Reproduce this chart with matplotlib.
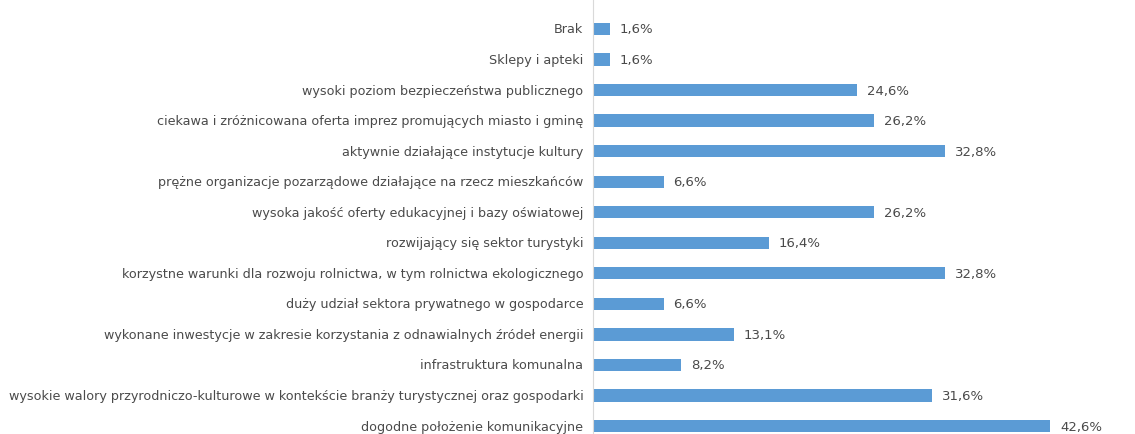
import matplotlib
matplotlib.use('Agg')
import matplotlib.pyplot as plt

# kategorie od góry do dołu
kategorie = [
    'Brak',
    'Sklepy i apteki',
    'wysoki poziom bezpieczeństwa publicznego',
    'ciekawa i zróżnicowana oferta imprez promujących miasto i gminę',
    'aktywnie działające instytucje kultury',
    'prężne organizacje pozarządowe działające na rzecz mieszkańców',
    'wysoka jakość oferty edukacyjnej i bazy oświatowej',
    'rozwijający się sektor turystyki',
    'korzystne warunki dla rozwoju rolnictwa, w tym rolnictwa ekologicznego',
    'duży udział sektora prywatnego w gospodarce',
    'wykonane inwestycje w zakresie korzystania z odnawialnych źródeł energii',
    'infrastruktura komunalna',
    'wysokie walory przyrodniczo-kulturowe w kontekście branży turystycznej oraz gospodarki',
    'dogodne położenie komunikacyjne',
]
wartosci = [1.6, 1.6, 24.6, 26.2, 32.8, 6.6, 26.2, 16.4, 32.8, 6.6, 13.1, 8.2, 31.6, 42.6]

plt.rcParams['font.family'] = ['DejaVu Sans']
kolor_tekstu = '#4a4a4a'

fig = plt.figure(figsize=(11.35, 4.35), dpi=100)
ax = fig.add_axes([593 / 1135, 0, 1 - 593 / 1135, 1])

n = len(kategorie)
y = [n - 1 - i for i in range(n)]
ax.barh(y, wartosci, height=0.4, color='#5B9BD5')

for yi, v in zip(y, wartosci):
    ax.annotate(f'{v:.1f}%'.replace('.', ','), (v, yi), xytext=(7, 0),
                textcoords='offset points', va='center', ha='left',
                fontsize=9.5, color=kolor_tekstu)

ax.set_yticks(y)
ax.set_yticklabels(kategorie, fontsize=9.2, color=kolor_tekstu, va='center')
ax.tick_params(axis='y', length=0, pad=7)
ax.set_xticks([])
ax.set_xlim(0, 50.5)
ax.set_ylim(-0.26, n - 1 + 0.98)

for s in ['top', 'right', 'bottom']:
    ax.spines[s].set_visible(False)
ax.spines['left'].set_color('#d9d9d9')

fig.savefig('out.png', dpi=100)
